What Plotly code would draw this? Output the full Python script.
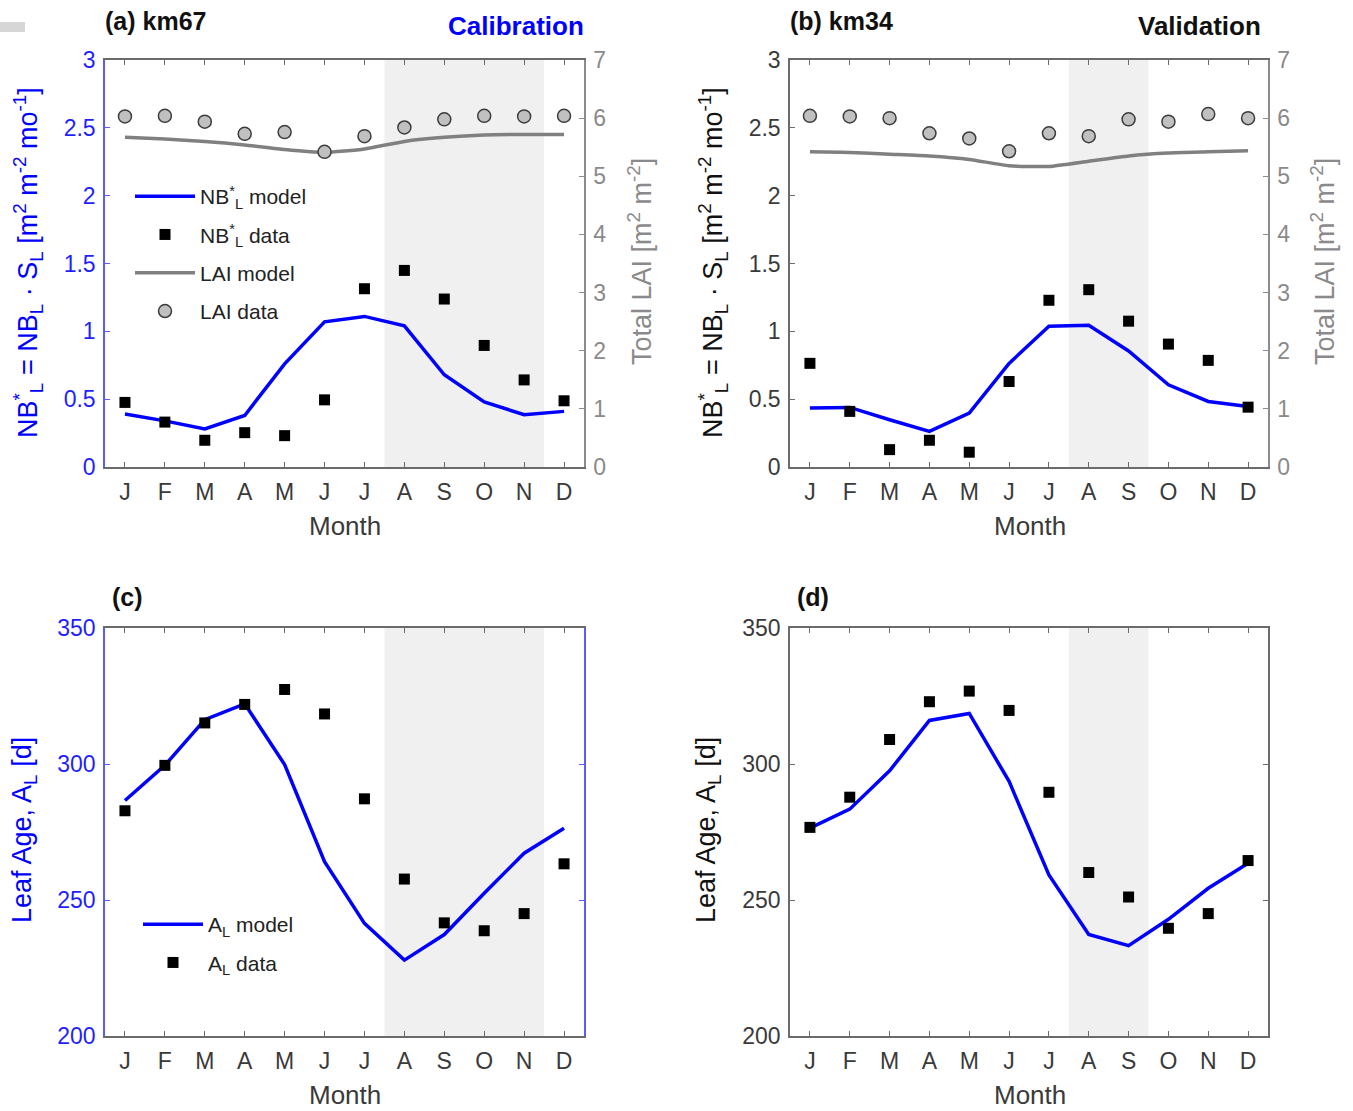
import plotly.graph_objects as go

# ---------------- data ----------------
months = ["J", "F", "M", "A", "M", "J", "J", "A", "S", "O", "N", "D"]
month_idx = list(range(1, 13))

# (a) km67 - calibration
nb_model_km67 = [0.39, 0.34, 0.28, 0.38, 0.76, 1.07, 1.11, 1.04, 0.68, 0.48, 0.385, 0.41]
nb_data_km67 = [0.476, 0.331, 0.197, 0.253, 0.231, 0.495, 1.314, 1.449, 1.238, 0.896, 0.642, 0.488]
lai_model_km67 = [5.67, 5.64, 5.60, 5.54, 5.46, 5.41, 5.47, 5.60, 5.67, 5.71, 5.72, 5.72]
lai_data_km67 = [6.03, 6.04, 5.94, 5.73, 5.76, 5.42, 5.69, 5.84, 5.98, 6.04, 6.03, 6.04]

# (b) km34 - validation
nb_model_km34 = [0.434, 0.439, 0.348, 0.263, 0.397, 0.764, 1.038, 1.045, 0.855, 0.606, 0.483, 0.446]
nb_data_km34 = [0.764, 0.41, 0.128, 0.197, 0.109, 0.630, 1.229, 1.307, 1.075, 0.906, 0.786, 0.441]
lai_model_km34 = [5.42, 5.41, 5.38, 5.35, 5.29, 5.18, 5.17, 5.26, 5.35, 5.40, 5.42, 5.44]
lai_data_km34 = [6.04, 6.03, 6.00, 5.74, 5.65, 5.43, 5.74, 5.69, 5.98, 5.94, 6.07, 6.00]

# (c) km67 leaf age
age_model_km67 = [286.6, 299.5, 316.3, 322.1, 299.8, 264.1, 241.4, 227.9, 237.3, 252.5, 267.2, 276.4]
age_data_km67 = [282.8, 299.5, 315.1, 321.9, 327.4, 318.4, 287.2, 257.7, 241.6, 238.7, 245.0, 263.3]

# (d) km34 leaf age
age_model_km34 = [276.4, 283.4, 297.5, 316.0, 318.6, 293.6, 259.2, 237.3, 233.2, 242.9, 254.3, 263.5]
age_data_km34 = [276.7, 287.8, 309.0, 322.9, 326.8, 319.7, 289.6, 260.1, 251.1, 239.6, 245.0, 264.5]

# shaded (dry-season) months, as month numbers
shade_km67 = [8, 9, 10, 11]
shade_km34 = [8, 9]

# ---------------- styling ----------------
W, H = 1353, 1111
FONT = "Liberation Sans, Arial, Helvetica, sans-serif"
BLUE = "#0000ff"
BLUE_AX = "#5a5aff"
BLUE_TXT = "#1f1fff"
GRAY_AX = "#8c8c8c"
GRAY_TXT = "#8a8a8a"
DARK_AX = "#6b6b6b"
DARK_TXT = "#3a3a3a"
LAI_LINE = "#808080"
SHADE = "#f0f0f0"


def px_x(p):
    return p / W


def px_y(p):
    return 1 - p / H


col_a = [px_x(105), px_x(584)]
col_b = [px_x(790), px_x(1268)]
row_top = [px_y(467), px_y(60)]
row_bot = [px_y(1036), px_y(628)]

fig = go.Figure()

sq = dict(symbol="square", size=11, color="black")
circ = dict(symbol="circle", size=13, color="#c0c0c0", line=dict(color="#3c3c3c", width=1.5))

# panel (a)
fig.add_trace(go.Scatter(x=month_idx, y=lai_model_km67, xaxis="x", yaxis="y2", mode="lines",
                         line=dict(color=LAI_LINE, width=3.5, shape="spline", smoothing=0.5),
                         name="LAI model", legendrank=3, legendgroup="lai_m"))
fig.add_trace(go.Scatter(x=month_idx, y=lai_data_km67, xaxis="x", yaxis="y2", mode="markers",
                         marker=circ, name="LAI data", legendrank=4, legendgroup="lai_d"))
fig.add_trace(go.Scatter(x=month_idx, y=nb_model_km67, xaxis="x", yaxis="y", mode="lines",
                         line=dict(color=BLUE, width=3.5),
                         name="NB<sup>*</sup><sub>L</sub> model", legendrank=1, legendgroup="nb_m"))
fig.add_trace(go.Scatter(x=month_idx, y=nb_data_km67, xaxis="x", yaxis="y", mode="markers",
                         marker=sq, name="NB<sup>*</sup><sub>L</sub> data", legendrank=2,
                         legendgroup="nb_d"))

# panel (b)
fig.add_trace(go.Scatter(x=month_idx, y=lai_model_km34, xaxis="x2", yaxis="y4", mode="lines",
                         line=dict(color=LAI_LINE, width=3.5, shape="spline", smoothing=0.5),
                         showlegend=False))
fig.add_trace(go.Scatter(x=month_idx, y=lai_data_km34, xaxis="x2", yaxis="y4", mode="markers",
                         marker=circ, showlegend=False))
fig.add_trace(go.Scatter(x=month_idx, y=nb_model_km34, xaxis="x2", yaxis="y3", mode="lines",
                         line=dict(color=BLUE, width=3.5), showlegend=False))
fig.add_trace(go.Scatter(x=month_idx, y=nb_data_km34, xaxis="x2", yaxis="y3", mode="markers",
                         marker=sq, showlegend=False))

# panel (c)
fig.add_trace(go.Scatter(x=month_idx, y=age_model_km67, xaxis="x3", yaxis="y5", mode="lines",
                         line=dict(color=BLUE, width=3.5), name="A<sub>L</sub> model",
                         legend="legend2", legendrank=1, legendgroup="age_m"))
fig.add_trace(go.Scatter(x=month_idx, y=age_data_km67, xaxis="x3", yaxis="y5", mode="markers",
                         marker=sq, name="A<sub>L</sub> data", legend="legend2", legendrank=2,
                         legendgroup="age_d"))

# panel (d)
fig.add_trace(go.Scatter(x=month_idx, y=age_model_km34, xaxis="x4", yaxis="y6", mode="lines",
                         line=dict(color=BLUE, width=3.5), showlegend=False))
fig.add_trace(go.Scatter(x=month_idx, y=age_data_km34, xaxis="x4", yaxis="y6", mode="markers",
                         marker=sq, showlegend=False))

# shaded season bands
for xref, yref, shade in [("x", "y domain", shade_km67), ("x2", "y3 domain", shade_km34),
                          ("x3", "y5 domain", shade_km67), ("x4", "y6 domain", shade_km34)]:
    fig.add_shape(type="rect", xref=xref, yref=yref, x0=min(shade) - 0.5, x1=max(shade) + 0.5,
                  y0=0, y1=1, fillcolor=SHADE, line_width=0, layer="below")

tick_font = dict(family=FONT, size=23)


def xaxis(domain, anchor):
    return dict(domain=domain, anchor=anchor, range=[0.5, 12.5], tickvals=month_idx,
                ticktext=months, ticks="inside", ticklen=5, tickcolor=DARK_AX, tickwidth=1,
                showline=True, linecolor=DARK_AX, linewidth=1.5, mirror="ticks",
                showgrid=False, zeroline=False, tickfont=dict(tick_font, color=DARK_TXT),
                ticklabelstandoff=4, automargin=False)


def yaxis(domain, anchor, rng, dtick, lc, tc, mirror=False, side="left", overlaying=None):
    d = dict(domain=domain, anchor=anchor, range=rng, dtick=dtick, ticks="inside", ticklen=5,
             tickcolor=lc, tickwidth=1, showline=True, linecolor=lc, linewidth=1.5,
             mirror=mirror, showgrid=False, zeroline=False, side=side,
             tickfont=dict(tick_font, color=tc), ticklabelstandoff=3, automargin=False)
    if overlaying:
        d["overlaying"] = overlaying
    return d


legend_style = dict(xanchor="left", yanchor="top", bgcolor="rgba(0,0,0,0)",
                    font=dict(family=FONT, size=21, color="#222222"),
                    itemwidth=60, tracegroupgap=8, traceorder="grouped")

fig.update_layout(
    width=W, height=H,
    margin=dict(l=0, r=0, t=0, b=0, autoexpand=False),
    paper_bgcolor="white", plot_bgcolor="white",
    font=dict(family=FONT, color="#222222"),
    xaxis=xaxis(col_a, "y"),
    yaxis=yaxis(row_top, "x", [0, 3], 0.5, BLUE_AX, BLUE_TXT),
    yaxis2=yaxis(row_top, "x", [0, 7], 1, GRAY_AX, GRAY_TXT, side="right", overlaying="y"),
    xaxis2=xaxis(col_b, "y3"),
    yaxis3=yaxis(row_top, "x2", [0, 3], 0.5, DARK_AX, DARK_TXT),
    yaxis4=yaxis(row_top, "x2", [0, 7], 1, GRAY_AX, GRAY_TXT, side="right", overlaying="y3"),
    xaxis3=xaxis(col_a, "y5"),
    yaxis5=yaxis(row_bot, "x3", [200, 350], 50, BLUE_AX, BLUE_TXT, mirror="ticks"),
    xaxis4=xaxis(col_b, "y6"),
    yaxis6=yaxis(row_bot, "x4", [200, 350], 50, DARK_AX, DARK_TXT, mirror="ticks"),
    showlegend=True,
    legend=dict(legend_style, x=px_x(130), y=px_y(176)),
    legend2=dict(legend_style, x=px_x(138), y=px_y(904)),
)

ann = []
# panel titles
ann.append(dict(text="<b>(a) km67</b>", x=px_x(103), y=px_y(21), xanchor="left", yanchor="middle",
                font=dict(size=25, color="#111111")))
ann.append(dict(text="<b>Calibration</b>", x=px_x(586), y=px_y(26), xanchor="right", yanchor="middle",
                font=dict(size=26, color=BLUE)))
ann.append(dict(text="<b>(b) km34</b>", x=px_x(788), y=px_y(21), xanchor="left", yanchor="middle",
                font=dict(size=25, color="#111111")))
ann.append(dict(text="<b>Validation</b>", x=px_x(1263), y=px_y(26), xanchor="right", yanchor="middle",
                font=dict(size=26, color="#111111")))
ann.append(dict(text="<b>(c)</b>", x=px_x(110), y=px_y(597), xanchor="left", yanchor="middle",
                font=dict(size=25, color="#111111")))
ann.append(dict(text="<b>(d)</b>", x=px_x(795), y=px_y(597), xanchor="left", yanchor="middle",
                font=dict(size=25, color="#111111")))

# x-axis titles
for cx, cy in [(345, 526), (1030, 526), (345, 1095), (1030, 1095)]:
    ann.append(dict(text="Month", x=px_x(cx), y=px_y(cy), xanchor="center", yanchor="middle",
                    font=dict(size=26, color=DARK_TXT)))

nb_title = "NB<sup>*</sup><sub>L</sub> = NB<sub>L</sub> · S<sub>L</sub> [m<sup>2</sup> m<sup>-2</sup> mo<sup>-1</sup>]"
lai_title = "Total LAI [m<sup>2</sup> m<sup>-2</sup>]"
age_title = "Leaf Age, A<sub>L</sub> [d]"

for text, cx, cy, col in [(nb_title, 28, 263, BLUE), (lai_title, 640, 262, GRAY_TXT),
                          (nb_title, 713, 263, "#111111"), (lai_title, 1323, 262, GRAY_TXT),
                          (age_title, 24, 830, BLUE), (age_title, 708, 830, "#111111")]:
    ann.append(dict(text=text, x=px_x(cx), y=px_y(cy), xanchor="center", yanchor="middle",
                    textangle=-90, font=dict(size=27, color=col)))

for a in ann:
    a.update(xref="paper", yref="paper", showarrow=False)
    a["font"]["family"] = FONT
fig.update_layout(annotations=ann)

# small gray tab at the top-left edge of the page
fig.add_shape(type="rect", xref="paper", yref="paper", x0=0, x1=px_x(25), y0=px_y(32), y1=px_y(22),
              fillcolor="#d6d6d6", line_width=0)

fig.write_html("out.html")
